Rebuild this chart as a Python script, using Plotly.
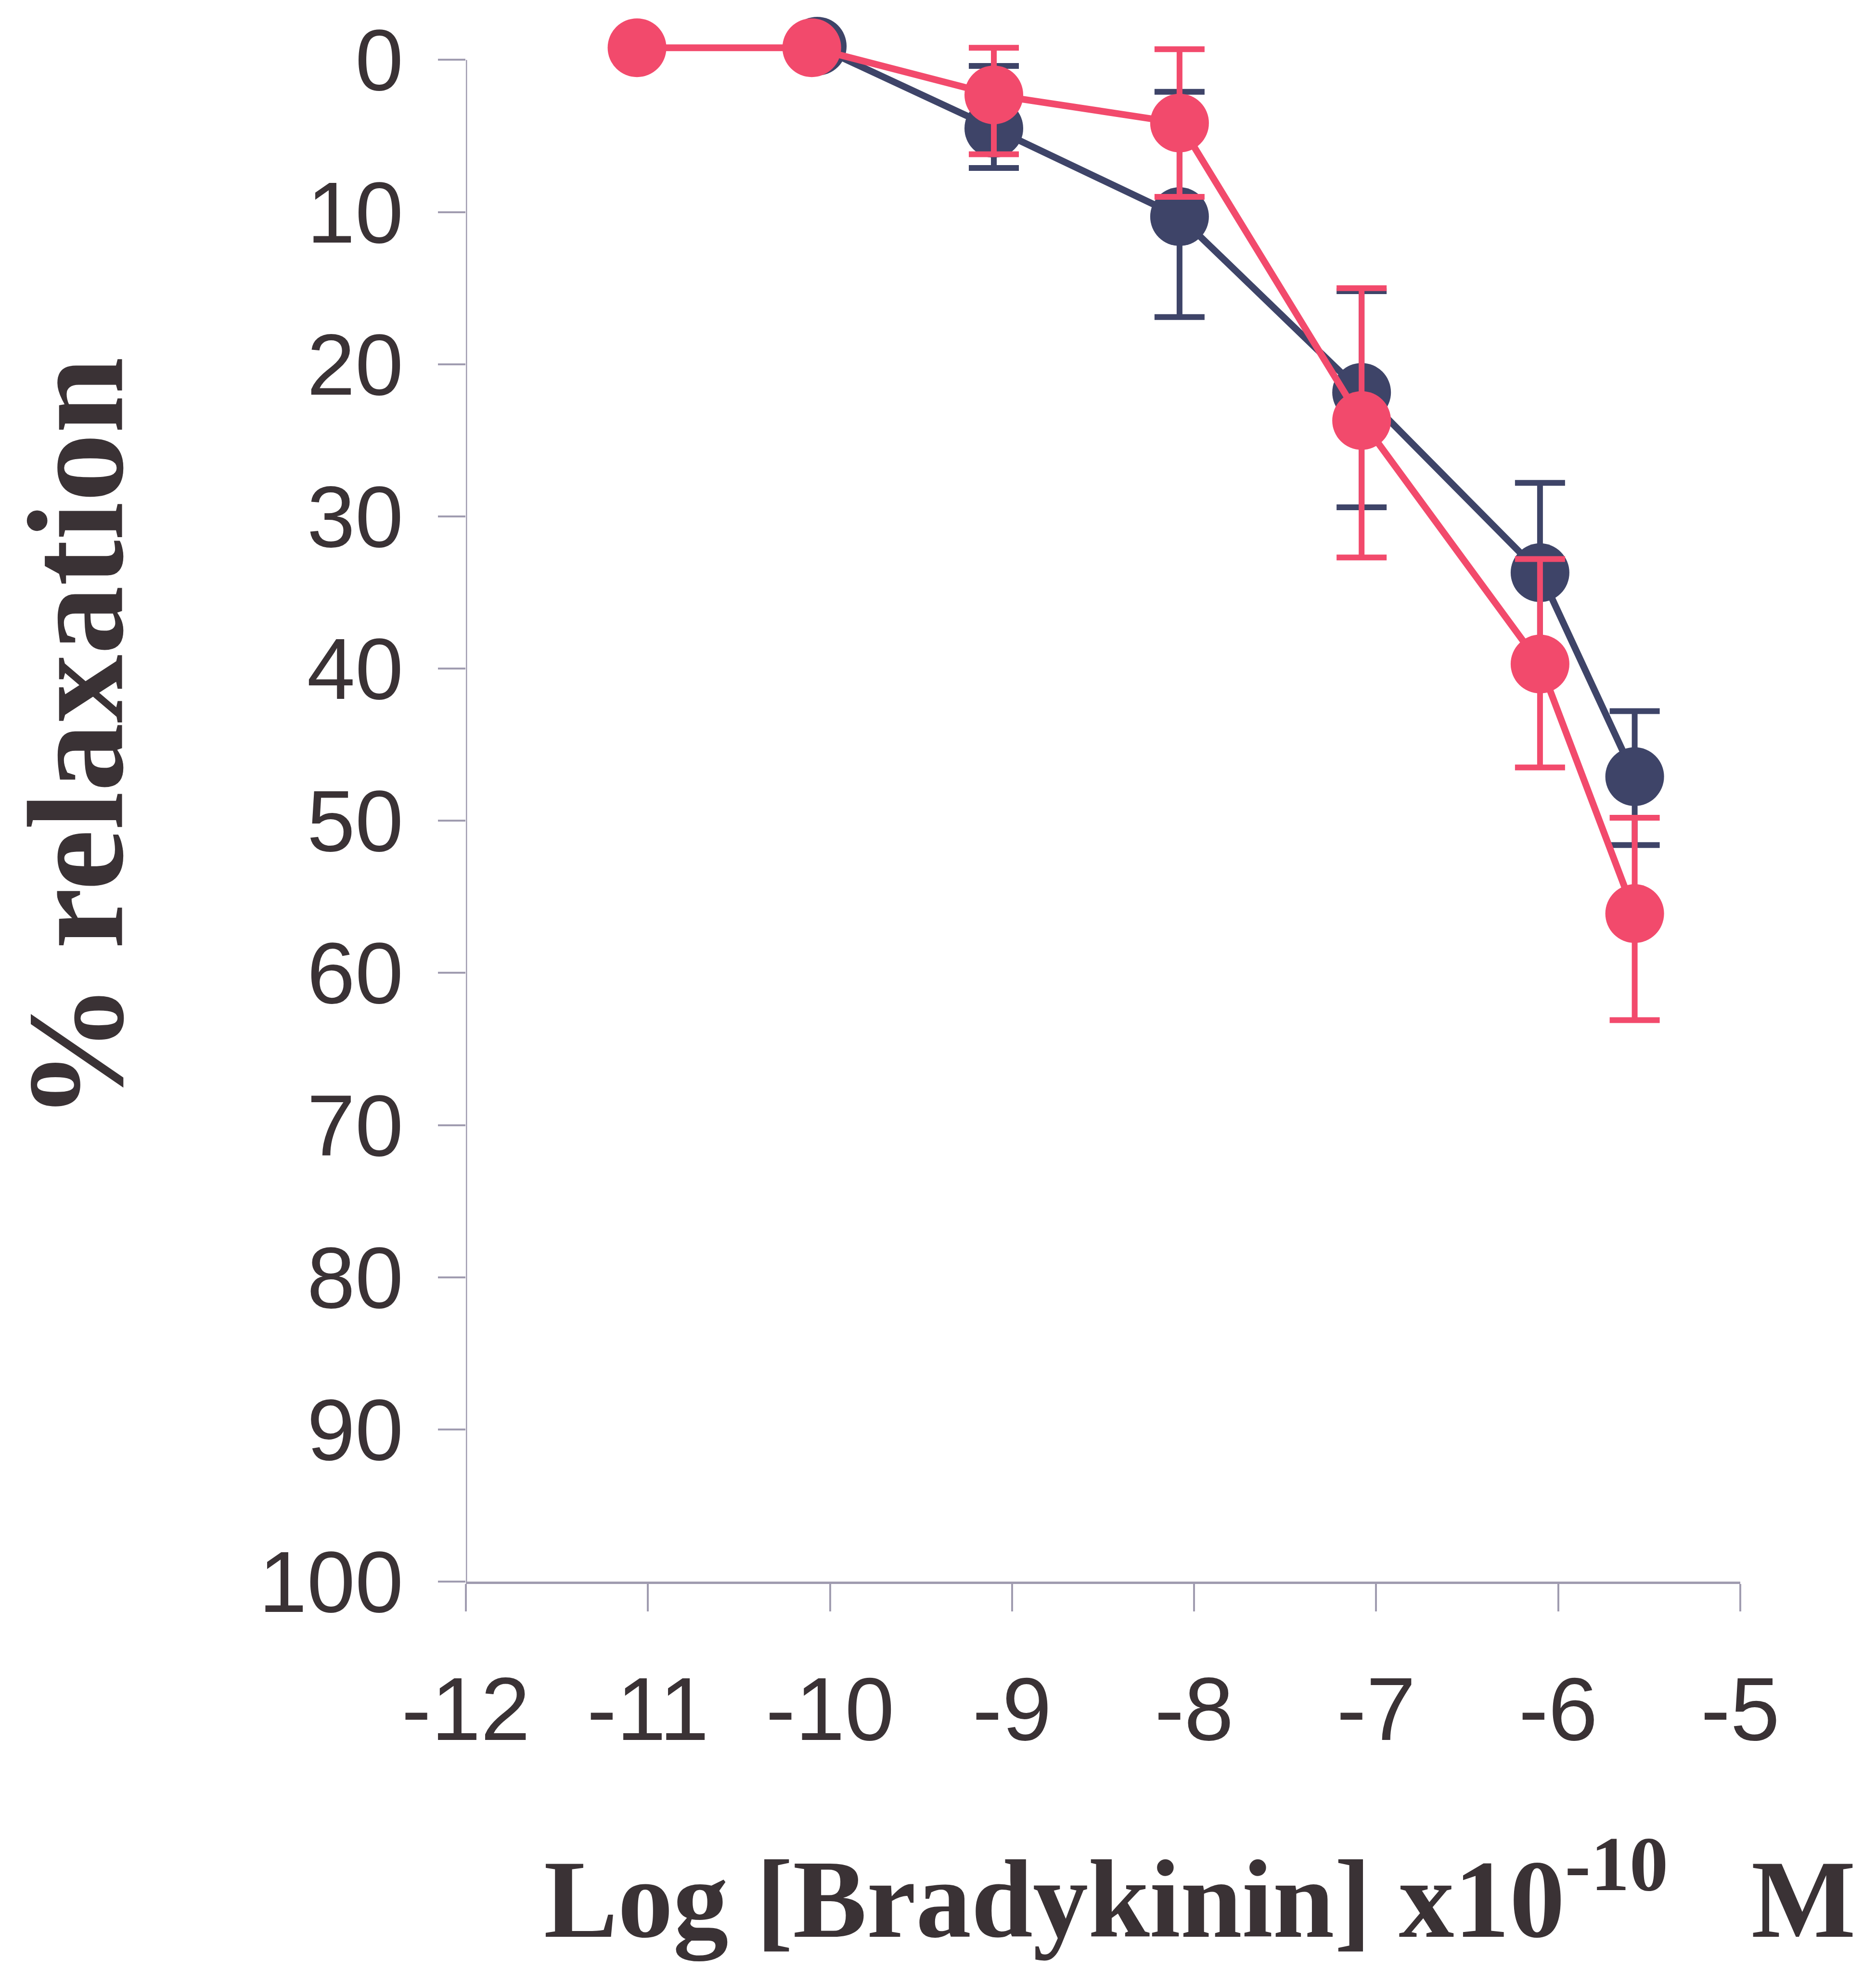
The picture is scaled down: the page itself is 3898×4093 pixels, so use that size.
import plotly.graph_objects as go

# Navy series (mean, upper/lower error extents)
navy_x = [-10.07, -9.1, -8.08, -7.08, -6.1, -5.58]
navy_y = [-0.9, 4.5, 10.3, 21.85, 33.7, 47.1]
navy_err_minus = [0.0, 4.1, 8.2, 6.65, 5.9, 4.3]
navy_err_plus = [0.0, 2.6, 6.6, 7.55, 5.9, 4.5]

# Red series
red_x = [-11.06, -10.1, -9.1, -8.08, -7.08, -6.1, -5.58]
red_y = [-0.8, -0.8, 2.3, 4.15, 23.7, 39.7, 56.1]
red_err_minus = [0.0, 0.0, 3.1, 4.85, 8.7, 6.9, 6.3]
red_err_plus = [0.0, 0.0, 3.9, 4.85, 9.0, 6.8, 7.0]

x_ticks = [-12, -11, -10, -9, -8, -7, -6, -5]
y_ticks = [0, 10, 20, 30, 40, 50, 60, 70, 80, 90, 100]
y_min, y_max = 0, 100

NAVY = "#3e4468"
RED = "#f24a6c"
TEXT = "#3a3235"
AXIS = "#a09cb0"

fig = go.Figure()
fig.add_trace(go.Scatter(
    x=navy_x, y=navy_y, mode="lines+markers",
    line=dict(color=NAVY, width=14),
    marker=dict(color=NAVY, size=122, symbol="circle"),
    error_y=dict(type="data", symmetric=False, array=navy_err_plus,
                 arrayminus=navy_err_minus, color=NAVY, thickness=12, width=52),
    cliponaxis=False, showlegend=False,
))
fig.add_trace(go.Scatter(
    x=red_x, y=red_y, mode="lines+markers",
    line=dict(color=RED, width=14),
    marker=dict(color=RED, size=122, symbol="circle"),
    error_y=dict(type="data", symmetric=False, array=red_err_plus,
                 arrayminus=red_err_minus, color=RED, thickness=12, width=52),
    cliponaxis=False, showlegend=False,
))

# y-axis spine drawn only over 0..100 (range extends slightly above 0)
fig.add_shape(type="line", xref="x", yref="y", x0=x_ticks[0], x1=x_ticks[0],
              y0=y_min, y1=y_max, line=dict(color=AXIS, width=5), layer="below")

fig.update_layout(
    width=3898, height=4093,
    margin=dict(l=968, r=282, t=77, b=807, autoexpand=False),
    paper_bgcolor="white", plot_bgcolor="white",
    font=dict(family="Liberation Sans, Arial", color=TEXT),
    xaxis=dict(
        range=[-12, -5], tickvals=x_ticks, ticktext=[str(v) for v in x_ticks],
        showgrid=False, zeroline=False, showline=True, linecolor=AXIS, linewidth=5,
        ticks="outside", ticklen=57, tickwidth=4, tickcolor=AXIS,
        tickfont=dict(size=185, color=TEXT, family="Liberation Sans, Arial"),
        ticklabelstandoff=45, automargin=False,
    ),
    yaxis=dict(
        range=[100, -1.5], tickvals=y_ticks, ticktext=[str(v) for v in y_ticks],
        showgrid=False, zeroline=False, showline=False,
        ticks="outside", ticklen=57, tickwidth=4, tickcolor=AXIS,
        tickfont=dict(size=180, color=TEXT, family="Liberation Sans, Arial"),
        ticklabelstandoff=36, automargin=False,
    ),
    annotations=[
        dict(text="% relaxation", textangle=-90, xref="paper", yref="paper",
             x=-0.306, y=0.5456, xanchor="center", yanchor="middle", showarrow=False,
             font=dict(family="Liberation Serif, Times New Roman", size=285, color=TEXT,
                       weight="bold")),
        dict(text="Log [Bradykinin] x10<sup>-10</sup>\u00a0\u00a0\u00a0M",
             xref="paper", yref="paper", x=0.576, y=-0.2465,
             xanchor="center", yanchor="bottom", showarrow=False,
             font=dict(family="Liberation Serif, Times New Roman", size=230, color=TEXT,
                       weight="bold")),
    ],
)

fig.write_html("out.html")
